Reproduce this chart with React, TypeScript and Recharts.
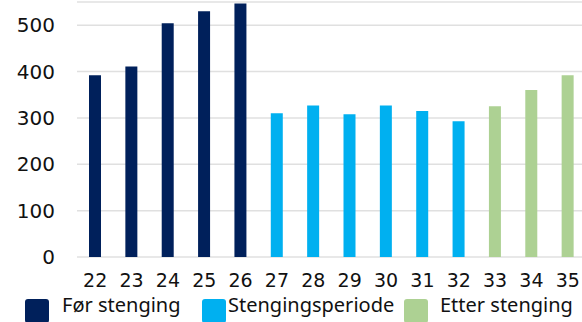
import { BarChart, Bar, XAxis, YAxis, CartesianGrid, Cell } from "recharts";

const weeks = ["22", "23", "24", "25", "26", "27", "28", "29", "30", "31", "32", "33", "34", "35"];
const visits = [392, 411, 504, 530, 547, 310, 327, 308, 327, 315, 293, 325, 360, 392];
const periods = [0, 0, 0, 0, 0, 1, 1, 1, 1, 1, 1, 2, 2, 2];
const periodNames = ["Før stenging", "Stengingsperiode", "Etter stenging"];
const yTicks = [0, 100, 200, 300, 400, 500];

const COLORS = ["#00205B", "#00B0F0", "#ADD193"];
const TICK_FONT = "'DejaVu Sans', sans-serif";
const LEGEND_FONT = "'Noto Sans', sans-serif";

const chartData = weeks.map((week, i) => ({
  week,
  value: visits[i],
  period: periods[i],
}));

// excel-style legend: swatch + label, spaced like the original export
function LegendRow() {
  const swatchLeft = [25, 202, 404];
  const labelLeft = [62, 228, 440];
  return (
    <div style={{ position: "absolute", left: 0, top: 298, width: 582, height: 24 }}>
      {periodNames.map((name, i) => (
        <div key={name}>
          <div
            style={{
              position: "absolute",
              left: swatchLeft[i],
              top: 1,
              width: 24,
              height: 24,
              borderRadius: 3,
              background: COLORS[i],
            }}
          />
          <span
            style={{
              position: "absolute",
              left: labelLeft[i],
              top: 0,
              whiteSpace: "nowrap",
              fontFamily: LEGEND_FONT,
              fontSize: 20,
              lineHeight: "14px",
              color: "#111",
            }}
          >
            {name}
          </span>
        </div>
      ))}
    </div>
  );
}

export default function App() {
  return (
    <div
      style={{
        position: "absolute",
        left: 0,
        top: 0,
        width: 582,
        height: 322,
        overflow: "hidden",
        background: "#fff",
      }}
    >
      <BarChart
        width={586}
        height={322}
        data={chartData}
        margin={{ top: 2, right: 0, left: 0, bottom: 25 }}
      >
        <CartesianGrid vertical={false} stroke="#e0e0e0" strokeWidth={1.5} />
        <XAxis
          dataKey="week"
          axisLine={false}
          tickLine={false}
          height={40}
          tickMargin={11}
          interval={0}
          tick={{ fill: "#111", fontSize: 19, fontFamily: TICK_FONT }}
        />
        <YAxis
          width={77}
          domain={[0, 550]}
          ticks={yTicks}
          axisLine={false}
          tickLine={false}
          tickMargin={16}
          tick={{ fill: "#111", fontSize: 20, fontFamily: TICK_FONT }}
        />
        <Bar dataKey="value" barSize={12} isAnimationActive={false}>
          {chartData.map((d) => (
            <Cell key={d.week} fill={COLORS[d.period]} />
          ))}
        </Bar>
      </BarChart>
      <LegendRow />
    </div>
  );
}
